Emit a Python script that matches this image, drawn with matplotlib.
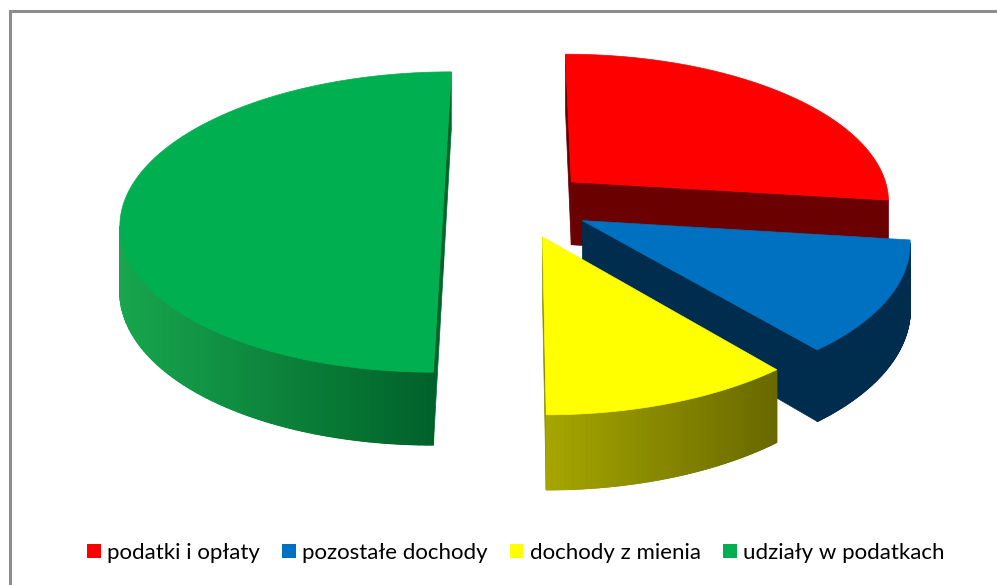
import numpy as np
import matplotlib
matplotlib.use("Agg")
import matplotlib.pyplot as plt
from matplotlib.patches import Polygon, Patch
from matplotlib.colors import to_rgb

# data
labels = ['podatki i opłaty', 'pozostałe dochody', 'dochody z mienia', 'udziały w podatkach']
values = [27, 12, 11, 50]

# styles
top_cols = ['#ff0000', '#0070c0', '#ffff00', '#00b050']
face_cols = ['#6a0000', '#002d4e', '#8a8a00', '#00652a']
wall_light = ['#6a0000', '#002d4e', '#a6a600', '#18a64e']
wall_dark = ['#6a0000', '#002d4e', '#686800', '#00622a']

W, H = 997, 585
cx, cy = 517, 204
rx, ry = 320, 148
depth = 64
persp = 0.12
explode = 0.23


def proj(X, Y, z):
    s = 1.0 / (1.0 + persp * Y)
    return (cx + rx * X * s, cy - ry * Y * s + depth * z * s)


def area(pts):
    p = np.array(pts)
    x, y = p[:, 0], p[:, 1]
    return 0.5 * np.sum(x * np.roll(y, -1) - np.roll(x, -1) * y)


fig = plt.figure(figsize=(W / 100, H / 100), dpi=100)
ax = fig.add_axes([0, 0, 1, 1])
ax.set_xlim(0, W)
ax.set_ylim(H, 0)
ax.axis('off')

frac = np.array(values, dtype=float) / sum(values)
bounds = 90 - 360 * np.concatenate([[0], np.cumsum(frac)])

slices = []
for i in range(len(values)):
    t0, t1 = bounds[i], bounds[i + 1]
    mid = np.radians((t0 + t1) / 2)
    slices.append((np.sin(mid), i, t0, t1, mid))

# back to front
slices.sort(key=lambda s: -s[0])

for _, i, t0, t1, mid in slices:
    ox, oy = explode * np.cos(mid), explode * np.sin(mid)
    ts = np.radians(np.linspace(t0, t1, 160))
    rimX, rimY = ox + np.cos(ts), oy + np.sin(ts)

    def rim(k, z):
        return proj(rimX[k], rimY[k], z)

    apex0, apex1 = proj(ox, oy, 0), proj(ox, oy, 1)

    # radial faces
    end_face = [rim(-1, 0), apex0, apex1, rim(-1, 1)]
    start_face = [apex0, rim(0, 0), rim(0, 1), apex1]
    for f in (start_face, end_face):
        if area(f) < 0:
            ax.add_patch(Polygon(f, closed=True, fc=face_cols[i], ec=face_cols[i], lw=0.5))

    # outer wall, shaded left to right
    vis = []
    for k in range(len(ts) - 1):
        q = [rim(k, 0), rim(k + 1, 0), rim(k + 1, 1), rim(k, 1)]
        if area(q) < 0:
            vis.append(k)
    if vis:
        ks = list(range(vis[0], vis[-1] + 2))
        outline = [rim(k, 0) for k in ks] + [rim(k, 1) for k in ks[::-1]]
        c0, c1 = np.array(to_rgb(wall_light[i])), np.array(to_rgb(wall_dark[i]))
        ax.add_patch(Polygon(outline, closed=True, fc=(c0 + c1) / 2, ec=(c0 + c1) / 2, lw=0.6))
        xm = [0.5 * (rim(k, 0)[0] + rim(k + 1, 0)[0]) for k in vis]
        lo, hi = min(xm), max(xm)
        for k, x in zip(vis, xm):
            f = 0 if hi == lo else (x - lo) / (hi - lo)
            c = c0 + (c1 - c0) * f
            q = [rim(k, 0), rim(k + 1, 0), rim(k + 1, 1), rim(k, 1)]
            ax.add_patch(Polygon(q, closed=True, fc=c, ec=c, lw=1.0))

    # top face
    top = [apex0] + [rim(k, 0) for k in range(len(ts))]
    ax.add_patch(Polygon(top, closed=True, fc=top_cols[i], ec=top_cols[i], lw=0.5))

# frame (only top and left edges fall inside the picture)
ax.plot([10, 10, W + 5], [H + 5, 11, 11], color='#8c8c8c', lw=2.2, solid_joinstyle='miter')

handles = [Patch(fc=c, ec='none') for c in top_cols]
ax.legend(handles, labels, loc='center', bbox_to_anchor=(516 / W, 1 - 553 / H),
          ncol=4, frameon=False, handlelength=0.6, handleheight=0.6,
          handletextpad=0.3, columnspacing=1.0, prop={'family': 'Lato', 'size': 16})

fig.savefig('out.png', dpi=100)
